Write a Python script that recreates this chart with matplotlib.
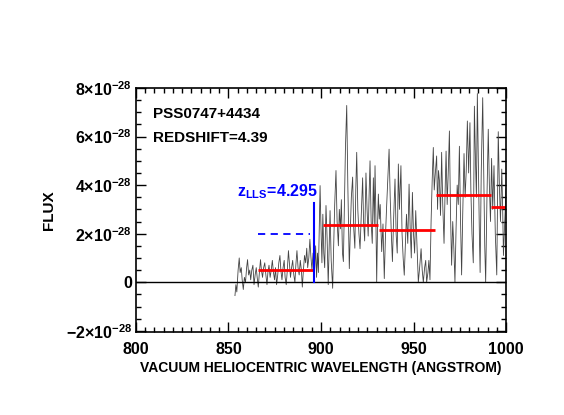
import matplotlib
matplotlib.use("Agg")
import matplotlib.pyplot as plt
from matplotlib.ticker import MultipleLocator

plt.rcParams['font.family'] = ['Liberation Sans', 'DejaVu Sans']
plt.rcParams['font.weight'] = 'bold'
plt.rcParams['mathtext.fontset'] = 'custom'
plt.rcParams['mathtext.rm'] = 'Liberation Sans:bold'
plt.rcParams['mathtext.it'] = 'Liberation Sans:bold'
plt.rcParams['mathtext.bf'] = 'Liberation Sans:bold'
plt.rcParams['mathtext.default'] = 'bf'

# Spectrum (flux in units of 1e-28)
wave = [853.5, 854.0, 854.5, 855.2, 855.8, 856.3, 856.9, 857.4, 858.0, 858.6, 859.2, 859.8,
        860.3, 860.9, 861.5, 862.0, 862.6, 863.2, 863.8, 864.4, 865.0, 865.5, 866.1, 866.7,
        867.3, 867.8, 868.4, 869.0, 869.6, 870.2, 870.8, 871.3, 871.9, 872.5, 873.1, 873.7,
        874.3, 874.9, 875.4, 876.0, 876.6, 877.2, 877.8, 878.3, 878.9, 879.5, 880.1, 880.6,
        881.2, 881.8, 882.4, 883.0, 883.5, 884.1, 884.7, 885.3, 885.9, 886.4, 887.0, 887.6,
        888.2, 888.8, 889.4, 889.9, 890.5, 891.1, 891.7, 892.3, 892.8, 893.4, 894.0, 894.5,
        895.1, 895.7, 896.3, 896.6, 897.1, 897.6, 898.1, 898.6, 899.0, 899.5, 900.0, 900.5,
        901.0, 901.5, 902.0, 902.7, 903.3, 903.9, 904.4, 904.9, 905.5, 906.3, 906.8, 907.4,
        908.1, 908.7, 909.4, 909.9, 910.5, 911.0, 911.6, 912.1, 912.6, 913.2, 913.9, 914.5,
        915.3, 915.8, 916.4, 917.1, 917.7, 918.3, 918.8, 919.3, 919.9, 920.5, 921.1, 921.7,
        922.5, 923.0, 923.6, 924.3, 924.9, 925.5, 926.0, 926.5, 927.1, 927.7, 928.3, 928.8,
        929.2, 929.6, 930.1, 930.6, 931.0, 931.5, 932.0, 932.8, 933.5, 934.2, 934.8, 935.4,
        936.1, 936.8, 937.4, 938.0, 938.6, 939.2, 940.0, 940.6, 941.2, 941.8, 942.4, 943.2,
        943.8, 944.4, 945.0, 945.6, 946.2, 946.9, 947.6, 948.2, 948.8, 949.4, 950.0, 950.6,
        951.2, 951.9, 952.6, 953.3, 954.1, 954.7, 955.3, 956.0, 956.6, 957.1, 957.8, 958.3,
        958.9, 959.5, 960.1, 960.7, 961.2, 961.8, 962.5, 963.0, 963.5, 964.0, 964.6, 965.2,
        965.8, 966.5, 967.0, 967.6, 968.2, 968.8, 969.4, 970.0, 970.6, 971.2, 971.8, 972.4,
        973.0, 973.6, 974.2, 974.8, 975.4, 976.0, 976.6, 977.3, 977.9, 978.5, 979.1, 979.8,
        980.5, 981.0, 981.6, 982.3, 982.9, 983.5, 984.0, 984.5, 985.2, 985.6, 986.0, 986.6,
        987.4, 988.0, 988.5, 989.0, 989.7, 990.4, 991.0, 991.6, 992.2, 992.8, 993.5, 994.2,
        995.0, 995.8, 996.4, 997.0, 997.7, 998.2, 998.6, 999.3, 1000.0]
flux = [-0.55, -0.1, -0.4, 0.5, 1.0, 0.4, 0.6, 0.1, -0.3, 0.2, 0.0, 0.6,
        0.93, 0.3, 0.5, 0.1, 0.5, 0.7, -0.1, 0.3, 0.6, 0.2, -0.2, 0.4,
        0.93, 0.5, 0.2, 0.6, 0.8, 0.3, -0.1, 0.4, 0.7, 0.2, 0.5, 0.9,
        0.4, 0.1, 0.6, -0.1, 0.3, 0.8, 1.1, 0.5, 0.1, 0.6, 0.9, 0.2,
        -0.1, 0.5, 1.3, 0.7, 0.2, 0.6, 0.9, 0.3, 0.0, 0.7, 1.3, 0.6,
        0.3, 0.9, 0.5, -0.2, 0.5, 1.1, 0.8, 1.4, 0.6, 1.0, 1.77, 1.1,
        0.5, 1.2, 0.3, 0.6, 1.5, 0.2, 1.2, 0.4, 2.0, 3.98, 2.2, 0.8,
        2.8, 1.2, 0.6, 3.16, 1.8, -0.1, 1.5, 2.95, 0.9, -0.25, 1.4, 3.2,
        4.6, 2.5, 1.5, 3.0, 2.2, 3.4, 1.2, 0.85, 3.0, 5.5, 7.28, 4.0,
        0.56, 2.0, 3.5, 4.33, 2.2, 1.4, 3.8, 5.35, 3.0, 2.0, 1.38, 2.6,
        4.3, 2.5, 1.7, 4.5, 3.0, 1.9, 3.6, 5.0, 2.5, 1.6, 4.3, 2.4,
        4.8, 3.0, 0.0, 2.5, 3.63, 2.6, 3.2, 1.26, 2.4, 0.15, 1.8, 3.0,
        4.2, 5.48, 3.5, 2.0, 0.85, 2.5, 4.25, 2.0, 1.2, 4.87, 3.0, 4.8,
        2.0, 1.0, 0.29, 1.5, 2.8, 1.6, 4.04, 2.2, 1.0, 3.7, 2.0, 1.2,
        2.95, 1.5, 0.0, 0.6, 1.38, 0.5, 0.0, 0.6, 0.9, 0.0, 0.4, 0.9,
        0.1, 2.5, 4.2, 5.55, 3.8, 4.5, 5.2, 3.0, 4.6, 4.2, 2.75, 5.35,
        3.2, 1.6, 3.5, 5.4, 3.2, 4.6, 6.23, 2.8, 0.7, 2.5, 1.4, 0.0,
        2.2, 4.0, 3.2, 5.6, 2.6, 0.3, 2.8, 5.3, 3.5, 4.6, 6.64, 4.5,
        6.57, 3.8, 2.0, 0.8, 7.25, 5.0, 3.5, 7.77, 4.0, 2.0, 0.4, 4.5,
        7.6, 4.2, 1.5, 0.0, 3.5, 6.3, 4.0, 2.5, 5.1, 3.0, 4.8, 2.0,
        0.3, 6.2, 4.0, 2.5, 4.66, 3.0, 1.1, 2.5, 3.84]

# Mean-flux segments (red)
seg_start = [866.0, 901.0, 931.5, 962.0, 992.0]
seg_end = [895.7, 931.0, 961.6, 991.7, 1000.0]
seg_flux = [0.49, 2.36, 2.14, 3.59, 3.11]

# Lyman limit system marker
lls_wave = 896.2
lls_top = 3.25
lls_dash_start = 866.0
lls_dash_end = 894.0
lls_dash_flux = 1.98

yticks = [-2, 0, 2, 4, 6, 8]
ytick_labels = [r'$-2{\times}10^{-28}$', '0', r'$2{\times}10^{-28}$',
                r'$4{\times}10^{-28}$', r'$6{\times}10^{-28}$', r'$8{\times}10^{-28}$']
xticks = [800, 850, 900, 950, 1000]

fig = plt.figure(figsize=(5.64, 4.15), dpi=100)
ax = fig.add_axes([0.2411, 0.2, 0.8972 - 0.2411, 0.788 - 0.2])

ax.plot(wave, flux, color='#444444', lw=0.6)
ax.axhline(0, color='black', lw=1.0)
for s, e, f in zip(seg_start, seg_end, seg_flux):
    ax.plot([s, e], [f, f], color='red', lw=2.0, solid_capstyle='butt')
ax.plot([lls_wave, lls_wave], [0, lls_top], color='blue', lw=1.5)
ax.plot([lls_dash_start, lls_dash_end], [lls_dash_flux, lls_dash_flux], color='blue',
        lw=1.3, dashes=(4, 3))

ax.text(854.5, 3.55, r'$z_{LLS}$=4.295', color='blue', fontsize=11.5, fontweight='bold')
ax.text(809, 6.92, 'PSS0747+4434', fontsize=11, fontweight='bold', va='center')
ax.text(809, 5.95, 'REDSHIFT=4.39', fontsize=11, fontweight='bold', va='center')

ax.set_xlim(800, 1000)
ax.set_ylim(-2.05, 8)
ax.set_xticks(xticks)
ax.set_xticklabels([str(t) for t in xticks])
ax.set_yticks(yticks)
ax.set_yticklabels(ytick_labels)
ax.xaxis.set_minor_locator(MultipleLocator(5))
ax.yaxis.set_minor_locator(MultipleLocator(0.5))
ax.tick_params(which='both', direction='in', top=True, right=True, labelsize=11.5, width=1.0)
ax.tick_params(which='major', length=7)
ax.tick_params(which='minor', length=3.5)
ax.tick_params(axis='x', which='major', pad=7)
ax.tick_params(axis='y', which='major', pad=3)
for sp in ax.spines.values():
    sp.set_linewidth(1.2)

ax.set_xlabel('VACUUM HELIOCENTRIC WAVELENGTH (ANGSTROM)', fontsize=10, fontweight='bold', labelpad=3)
ax.set_ylabel('FLUX', fontsize=11, fontweight='bold', labelpad=7)

fig.savefig('out.png', dpi=100)
